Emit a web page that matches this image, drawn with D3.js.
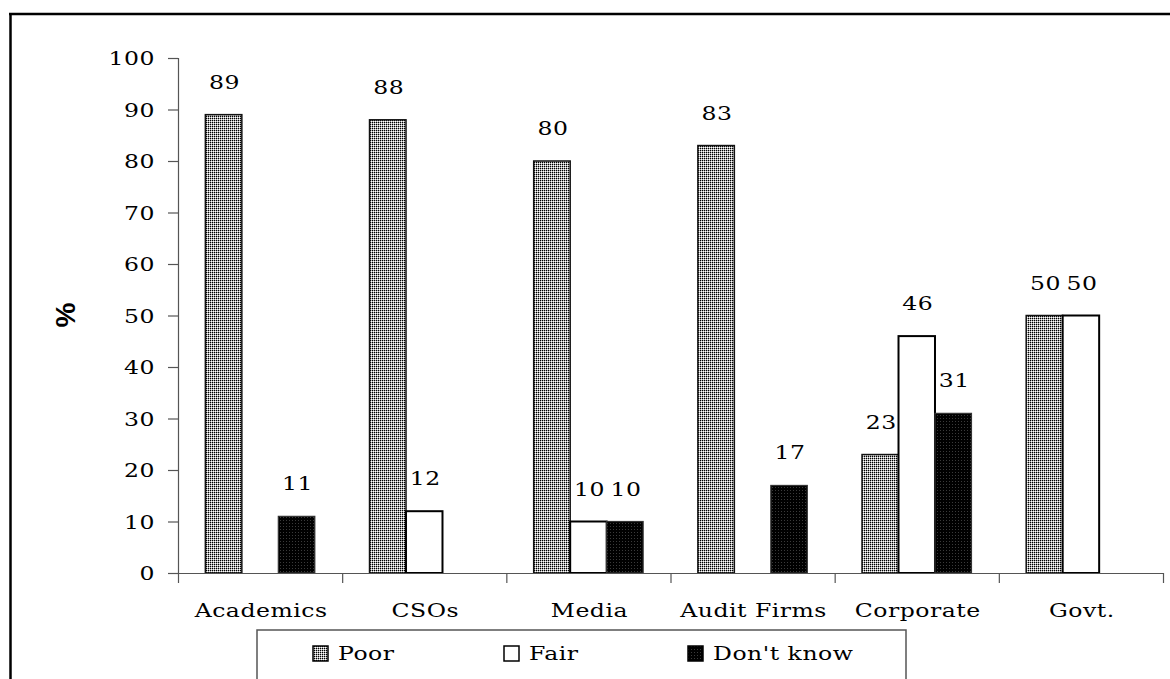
<!DOCTYPE html>
<html>
<head>
<meta charset="utf-8">
<script src="https://cdn.jsdelivr.net/npm/d3@7"></script>
<style>
  html, body { margin: 0; padding: 0; background: #fff; }
  svg { display: block; }
  .serif { font-family: "DejaVu Serif", serif; font-size: 19px; letter-spacing: 0.4px; fill: #000; }
</style>
</head>
<body>
<script>
const categories = ["Academics", "CSOs", "Media", "Audit Firms", "Corporate", "Govt."];
const seriesNames = ["Poor", "Fair", "Don't know"];
const poor = [89, 88, 80, 83, 23, 50];
const fair = [null, 12, 10, null, 46, 50];
const dontKnow = [11, null, 10, 17, 31, null];
const yTicks = [0, 10, 20, 30, 40, 50, 60, 70, 80, 90, 100];

const W = 1170, H = 679;
const SX = 1.24; // horizontal widening to mimic the wide serif face
const svg = d3.select("body").append("svg").attr("width", W).attr("height", H);

function addText(parent, tx, ty, str, anchor) {
  return parent.append("text").attr("class", "serif")
    .attr("text-anchor", anchor || "start")
    .attr("transform", `translate(${tx},${ty}) scale(${SX},1)`)
    .text(str);
}

// patterns
const defs = svg.append("defs");
const pPoor = defs.append("pattern").attr("id", "pPoor").attr("patternUnits", "userSpaceOnUse")
  .attr("width", 2).attr("height", 2);
pPoor.append("rect").attr("width", 2).attr("height", 2).attr("fill", "#a8a8a8");
pPoor.append("rect").attr("x", 0).attr("y", 0).attr("width", 1).attr("height", 1).attr("fill", "#000");
pPoor.append("rect").attr("x", 1).attr("y", 1).attr("width", 1).attr("height", 1).attr("fill", "#fff");
const pDK = defs.append("pattern").attr("id", "pDK").attr("patternUnits", "userSpaceOnUse")
  .attr("width", 3).attr("height", 3);
pDK.append("rect").attr("width", 3).attr("height", 3).attr("fill", "#000");
pDK.append("rect").attr("x", 1).attr("y", 1).attr("width", 1).attr("height", 1).attr("fill", "#3a3a3a");

const fills = { "Poor": "url(#pPoor)", "Fair": "#fff", "Don't know": "url(#pDK)" };
const strokes = { "Poor": "#111", "Fair": "#000", "Don't know": "#333" };
const strokeW = { "Poor": 1.5, "Fair": 2, "Don't know": 1.2 };

// outer frame
svg.append("line").attr("x1", 9).attr("x2", W).attr("y1", 14).attr("y2", 14)
  .attr("stroke", "#000").attr("stroke-width", 2.5);
svg.append("line").attr("x1", 10.5).attr("x2", 10.5).attr("y1", 13).attr("y2", H)
  .attr("stroke", "#000").attr("stroke-width", 2.5);

// scales
const x = d3.scaleBand().domain(categories).range([178, 1163]).padding(0);
const x1 = d3.scaleBand().domain(seriesNames).range([0, x.bandwidth()]).paddingInner(0).paddingOuter(0.75);
const y = d3.scaleLinear().domain([0, 100]).range([573, 58]);

// y axis
const yAxis = svg.append("g").attr("transform", "translate(178,0)")
  .call(d3.axisLeft(y).tickValues(yTicks).tickSize(10).tickPadding(13).tickFormat(d3.format("d")));
yAxis.attr("font-family", null).attr("font-size", null);
yAxis.select(".domain").attr("stroke", "#555").attr("stroke-width", 1.2);
yAxis.selectAll(".tick line").attr("stroke", "#555").attr("stroke-width", 1.2);
yAxis.selectAll(".tick text").attr("class", "serif").attr("fill", "#000")
  .attr("x", -23 / SX).attr("dy", "0.36em")
  .attr("transform", `scale(${SX},1)`);

// bars
const data = [];
categories.forEach((c, i) => {
  [poor[i], fair[i], dontKnow[i]].forEach((v, j) => {
    if (v !== null) data.push({ cat: c, series: seriesNames[j], value: v });
  });
});

svg.append("g").selectAll("rect").data(data).enter().append("rect")
  .attr("x", d => x(d.cat) + x1(d.series))
  .attr("y", d => y(d.value))
  .attr("width", x1.bandwidth())
  .attr("height", d => y(0) - y(d.value))
  .attr("fill", d => fills[d.series])
  .attr("stroke", d => strokes[d.series])
  .attr("stroke-width", d => strokeW[d.series]);

// value labels
const vl = svg.append("g");
data.forEach(d => {
  addText(vl, x(d.cat) + x1(d.series) + x1.bandwidth() / 2 + 1, y(d.value) - 26, d.value, "middle");
});

// x axis line & ticks
const xAxis = svg.append("g");
xAxis.append("line").attr("x1", x.range()[0]).attr("x2", x.range()[1])
  .attr("y1", y(0) + 0.5).attr("y2", y(0) + 0.5).attr("stroke", "#555").attr("stroke-width", 1.2);
const bounds = categories.map(c => x(c)).concat([x.range()[1]]);
xAxis.selectAll("line.tk").data(bounds).enter().append("line").attr("class", "tk")
  .attr("x1", d => d + 0.5).attr("x2", d => d + 0.5)
  .attr("y1", y(0)).attr("y2", y(0) + 10)
  .attr("stroke", "#555").attr("stroke-width", 1.2);
categories.forEach(c => addText(xAxis, x(c) + x.bandwidth() / 2 + 1, 617, c, "middle"));

// y title
svg.append("text")
  .attr("transform", "translate(75,315) rotate(-90)")
  .attr("text-anchor", "middle")
  .attr("font-family", "Liberation Sans, Arial, sans-serif")
  .attr("font-weight", "bold")
  .attr("font-size", 28)
  .attr("fill", "#000")
  .text("%");

// legend
const lg = svg.append("g");
lg.append("rect").attr("x", 257).attr("y", 630).attr("width", 649).attr("height", 80)
  .attr("fill", "none").attr("stroke", "#555").attr("stroke-width", 1.5);
const legendX = [313, 504, 688];
seriesNames.forEach((s, i) => {
  lg.append("rect").attr("x", legendX[i]).attr("y", 646).attr("width", 15).attr("height", 15)
    .attr("fill", fills[s]).attr("stroke", "#000").attr("stroke-width", 1.5);
  addText(lg, legendX[i] + 25, 660, s, "start");
});
</script>
</body>
</html>
